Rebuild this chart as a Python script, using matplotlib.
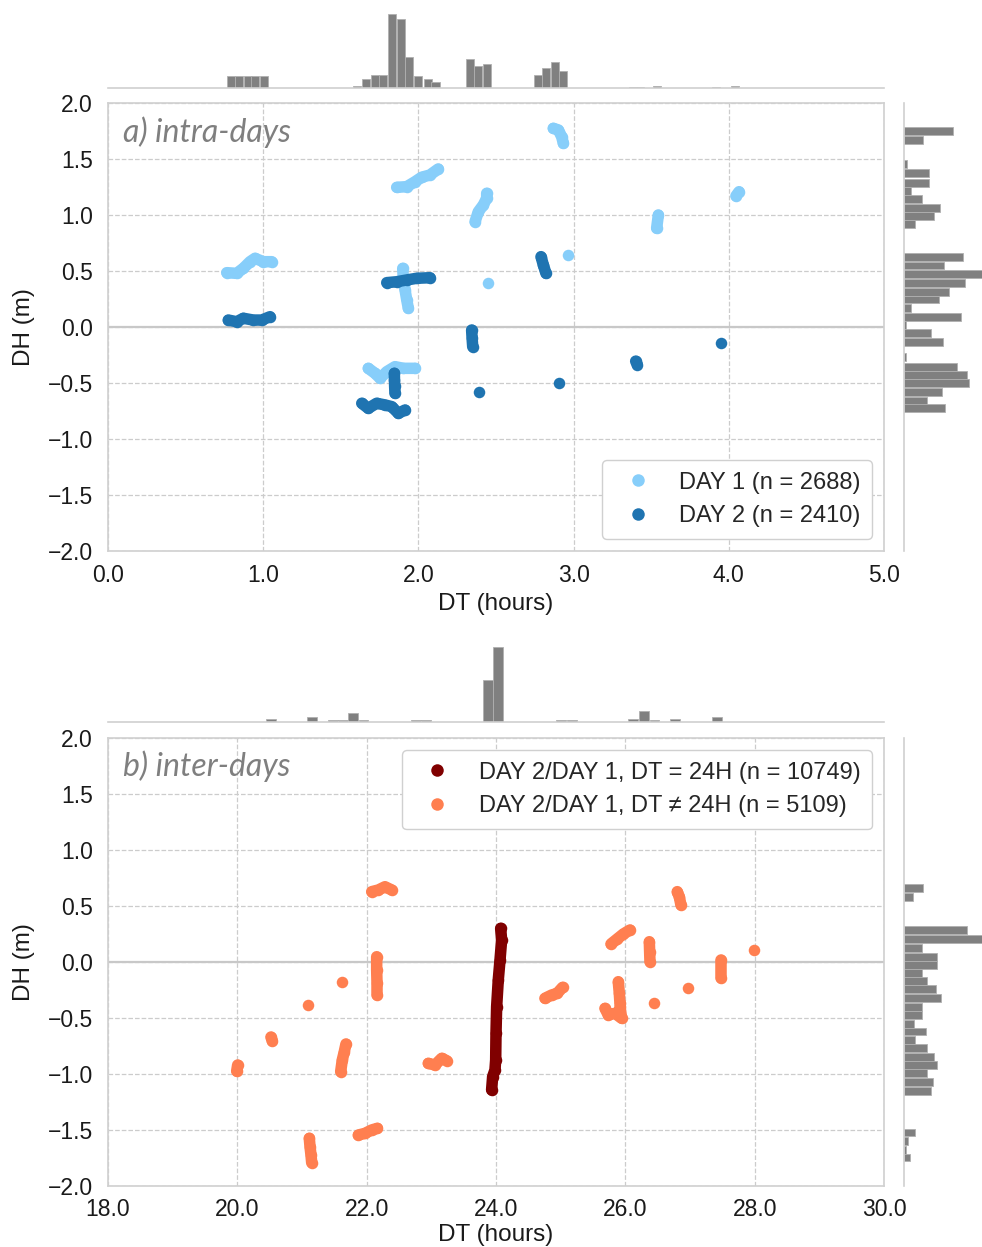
import matplotlib
matplotlib.use('Agg')
import matplotlib.pyplot as plt
from matplotlib.lines import Line2D
from matplotlib.ticker import FuncFormatter

# ---- panel a: intra-days clusters (DT hours, DH m) ----
day1_clusters = [
    [(0.765, 0.485), (0.829, 0.479), (0.872, 0.524), (0.915, 0.583), (0.947, 0.613), (1.001, 0.583), (1.055, 0.583)],
    [(1.860, 1.247), (1.925, 1.253), (1.978, 1.297), (2.021, 1.337), (2.074, 1.357), (2.128, 1.411)],
    [(1.899, 0.524), (1.903, 0.420), (1.914, 0.330), (1.925, 0.241), (1.935, 0.167)],
    [(1.677, -0.369), (1.720, -0.413), (1.753, -0.458), (1.796, -0.399), (1.849, -0.354), (1.903, -0.369), (1.978, -0.369)],
    [(2.365, 0.940), (2.386, 1.029), (2.418, 1.089), (2.440, 1.149), (2.440, 1.194)],
    [(2.447, 0.390)],
    [(2.869, 1.774), (2.902, 1.759), (2.923, 1.699), (2.934, 1.640)],
    [(2.966, 0.643)],
    [(3.546, 1.000), (3.535, 0.881)],
    [(4.046, 1.170), (4.066, 1.208)],
]
day2_clusters = [
    [(0.775, 0.062), (0.829, 0.047), (0.872, 0.078), (0.936, 0.062), (0.990, 0.062), (1.044, 0.092)],
    [(1.796, 0.396), (1.860, 0.404), (1.925, 0.420), (1.989, 0.435), (2.075, 0.440)],
    [(1.845, -0.413), (1.846, -0.470), (1.847, -0.530), (1.849, -0.592)],
    [(1.635, -0.681), (1.677, -0.726), (1.731, -0.681), (1.785, -0.696), (1.828, -0.711), (1.871, -0.771), (1.914, -0.741)],
    [(2.343, -0.027), (2.346, -0.100), (2.350, -0.176)],
    [(2.390, -0.583)],
    [(2.790, 0.628), (2.805, 0.554), (2.822, 0.479)],
    [(2.908, -0.503)],
    [(3.400, -0.305), (3.410, -0.335)],
    [(3.948, -0.140)],
]

# ---- panel b: inter-days clusters ----
dt24_clusters = [
    [(24.072, 0.301), (24.087, 0.196), (24.062, 0.018), (24.035, -0.161), (24.010, -0.399),
     (24.000, -0.637), (23.995, -0.875), (23.984, -0.964), (23.948, -1.024), (23.932, -1.143)],
]
dtnot24_clusters = [
    [(22.078, 0.628), (22.180, 0.643), (22.283, 0.672), (22.387, 0.643)],
    [(22.155, 0.047), (22.155, -0.071), (22.160, -0.190), (22.160, -0.295)],
    [(21.623, -0.176)],
    [(21.098, -0.384)],
    [(20.520, -0.670), (20.540, -0.705)],
    [(20.005, -0.920), (19.990, -0.975)],
    [(21.680, -0.732), (21.654, -0.801), (21.623, -0.875), (21.598, -0.979)],
    [(22.953, -0.905), (23.056, -0.920), (23.160, -0.860), (23.237, -0.881)],
    [(21.871, -1.545), (21.974, -1.530), (22.077, -1.500), (22.165, -1.485)],
    [(21.113, -1.574), (21.124, -1.649), (21.139, -1.723), (21.150, -1.792)],
    [(24.757, -0.324), (24.860, -0.295), (24.946, -0.280), (25.030, -0.226)],
    [(25.778, 0.161), (25.866, 0.202), (25.969, 0.250), (26.072, 0.286)],
    [(26.803, 0.628), (26.834, 0.583), (26.860, 0.509)],
    [(26.371, 0.181), (26.376, 0.090), (26.381, 0.003)],
    [(27.994, 0.107)],
    [(27.474, 0.018), (27.474, -0.146)],
    [(26.973, -0.235)],
    [(26.447, -0.369)],
    [(25.891, -0.176), (25.907, -0.280), (25.917, -0.369)],
    [(25.685, -0.414), (25.737, -0.473), (25.840, -0.458), (25.943, -0.503), (25.917, -0.399)],
]

# ---- marginal histograms (bin centres, counts) ----
a_top_centers = [0.79, 0.845, 0.90, 0.95, 1.007, 1.605, 1.66, 1.72, 1.77, 1.83, 1.89, 1.94, 2.0, 2.06, 2.11,
                 2.33, 2.385, 2.44, 2.77, 2.82, 2.88, 2.93, 3.38, 3.43, 3.54, 3.92, 4.04]
a_top_counts = [35, 35, 35, 35, 35, 5, 28, 39, 39, 223, 207, 93, 35, 28, 18,
                88, 66, 73, 39, 61, 78, 51, 3, 3, 6, 3, 6]
a_right_centers = [1.747, 1.673, 1.459, 1.372, 1.289, 1.218, 1.146, 1.066, 0.989, 0.923,
                   0.623, 0.549, 0.474, 0.391, 0.316, 0.245, 0.168, 0.087, 0.019, -0.052, -0.133,
                   -0.267, -0.356, -0.427, -0.501, -0.582, -0.659, -0.725]
a_right_counts = [146, 58, 8, 76, 76, 22, 54, 108, 91, 32,
                  178, 120, 250, 184, 136, 104, 22, 172, 6, 82, 118,
                  6, 158, 190, 194, 114, 70, 124]
b_top_centers = [20.52, 21.16, 21.48, 21.63, 21.79, 21.95, 22.76, 22.92, 23.88, 24.03,
                 25.01, 25.17, 26.12, 26.29, 26.45, 26.77, 27.42]
b_top_counts = [10, 15, 5, 5, 27, 5, 5, 5, 123, 218, 5, 5, 10, 31, 5, 10, 15]
b_right_centers = [0.657, 0.582, 0.284, 0.203, 0.122, 0.048, -0.024, -0.099, -0.170, -0.242,
                   -0.322, -0.400, -0.472, -0.552, -0.621, -0.696, -0.770, -0.845, -0.919,
                   -0.994, -1.069, -1.149, -1.522, -1.597, -1.675, -1.746]
b_right_counts = [58, 28, 190, 250, 54, 98, 98, 54, 70, 96, 110, 54, 54, 30, 66, 32, 70, 90, 98,
                  70, 86, 82, 32, 12, 6, 18]

labels_a = ['DAY 1 (n = 2688)', 'DAY 2 (n = 2410)']
labels_b = ['DAY 2/DAY 1, DT = 24H (n = 10749)', 'DAY 2/DAY 1, DT \u2260 24H (n = 5109)']
c_day1, c_day2 = '#87cefa', '#1f74b1'
c_24, c_not24 = '#800000', '#ff7f50'

plt.rcParams['font.family'] = ['Liberation Sans', 'DejaVu Sans']
W, H = 982, 1247
fig = plt.figure(figsize=(W / 100, H / 100), dpi=100)

fmt = FuncFormatter(lambda v, p: ('%.1f' % v).replace('-', '\u2212'))


def box(x0, y0, x1, y1):
    # pixel box (top-left origin) -> figure fraction
    return [x0 / W, 1 - y1 / H, (x1 - x0) / W, (y1 - y0) / H]


def style_main(ax, xlim, xticks, xlabelpad=5):
    ax.set_xlim(*xlim)
    ax.set_ylim(-2, 2)
    ax.set_xticks(xticks)
    ax.set_yticks([2.0, 1.5, 1.0, 0.5, 0.0, -0.5, -1.0, -1.5, -2.0])
    ax.xaxis.set_major_formatter(fmt)
    ax.yaxis.set_major_formatter(fmt)
    ax.set_axisbelow(True)
    ax.grid(True, ls='--', color='#cccccc', lw=0.9)
    ax.axhline(0, color='#c8c8c8', lw=1.6, zorder=1)
    for s in ax.spines.values():
        s.set_color('#d0d0d0')
        s.set_linewidth(1.2)
    ax.tick_params(length=0, labelsize=16.5, colors='#1a1a1a')
    ax.tick_params(axis='x', pad=9)
    ax.tick_params(axis='y', pad=11)
    ax.set_xlabel('DT (hours)', fontsize=17.5, color='#1a1a1a', labelpad=xlabelpad)
    ax.set_ylabel('DH (m)', fontsize=17.5, color='#1a1a1a', labelpad=9)


def draw_clusters(ax, clusters, color):
    for cl in clusters:
        xs = [p[0] for p in cl]
        ys = [p[1] for p in cl]
        ax.plot(xs, ys, '-o', color=color, lw=8.3, ms=8.3, mew=0,
                solid_capstyle='round', solid_joinstyle='round', zorder=3)


def style_hist(ax, side, lim):
    if side == 'top':
        ax.set_xlim(*lim)
    else:
        ax.set_ylim(*lim)
    ax.set_xticks([])
    ax.set_yticks([])
    for s in ax.spines.values():
        s.set_visible(False)
    sp = ax.spines['bottom'] if side == 'top' else ax.spines['left']
    sp.set_visible(True)
    sp.set_color('#d0d0d0')
    sp.set_linewidth(1.2)
    ax.patch.set_alpha(0)


def legend(ax, colors, labels, loc, bta):
    handles = [Line2D([], [], ls='', marker='o', ms=9, mew=0, color=c) for c in colors]
    lg = ax.legend(handles, labels, loc=loc, bbox_to_anchor=bta, fontsize=17,
                   handletextpad=0.75, borderpad=0.5, labelspacing=0.5, frameon=True,
                   fancybox=True, edgecolor='#d0d0d0', framealpha=1)
    for t in lg.get_texts():
        t.set_color('#262626')


# ---- panel a ----
ax1 = fig.add_axes(box(108, 103, 884, 551))
style_main(ax1, (0, 5), [0, 1, 2, 3, 4, 5])
draw_clusters(ax1, day1_clusters, c_day1)
draw_clusters(ax1, day2_clusters, c_day2)
legend(ax1, [c_day1, c_day2], labels_a, 'lower right', (1.0, 0.0))
ax1.text(0.019, 0.935, 'a) intra-days', transform=ax1.transAxes, fontsize=23,
         family='Lato', style='italic', color='#7f7f7f', va='center', ha='left')

ax1t = fig.add_axes(box(108, 12, 884, 88))
ax1t.bar(a_top_centers, a_top_counts, width=0.052, color='#808080', edgecolor='#b0b0b0', lw=0.6)
ax1t.set_ylim(0, 228)
style_hist(ax1t, 'top', (0, 5))

ax1r = fig.add_axes(box(904, 103, 982, 551))
ax1r.barh(a_right_centers, a_right_counts, height=0.07, color='#808080', edgecolor='#b0b0b0', lw=0.6)
ax1r.set_xlim(0, 234)
style_hist(ax1r, 'right', (-2, 2))

# ---- panel b ----
ax2 = fig.add_axes(box(108, 738, 884, 1186))
style_main(ax2, (18, 30), [18, 20, 22, 24, 26, 28, 30], xlabelpad=2)
draw_clusters(ax2, dt24_clusters, c_24)
draw_clusters(ax2, dtnot24_clusters, c_not24)
legend(ax2, [c_24, c_not24], labels_b, 'upper right', (1.0, 1.0))
ax2.text(0.019, 0.9375, 'b) inter-days', transform=ax2.transAxes, fontsize=23,
         family='Lato', style='italic', color='#7f7f7f', va='center', ha='left')

ax2t = fig.add_axes(box(108, 646, 884, 722))
ax2t.bar(b_top_centers, b_top_counts, width=0.15, color='#808080', edgecolor='#b0b0b0', lw=0.6)
ax2t.set_ylim(0, 222)
style_hist(ax2t, 'top', (18, 30))

ax2r = fig.add_axes(box(904, 738, 982, 1186))
ax2r.barh(b_right_centers, b_right_counts, height=0.07, color='#808080', edgecolor='#b0b0b0', lw=0.6)
ax2r.set_xlim(0, 234)
style_hist(ax2r, 'right', (-2, 2))

fig.savefig('out.png', dpi=100)
